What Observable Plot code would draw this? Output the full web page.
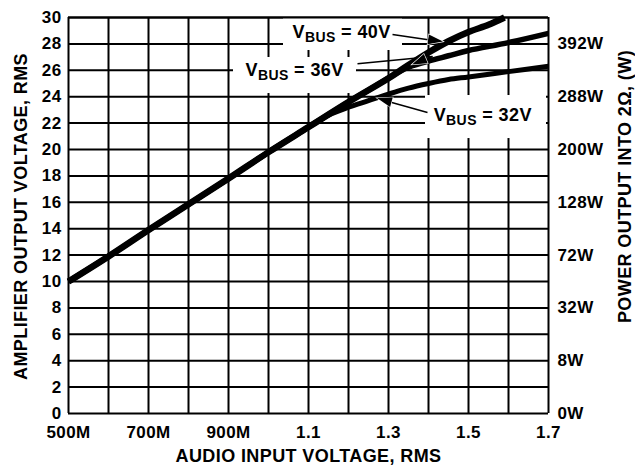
<!DOCTYPE html>
<html>
<head>
<meta charset="utf-8">
<script src="https://cdn.jsdelivr.net/npm/d3@7"></script>
<script src="https://cdn.jsdelivr.net/npm/@observablehq/plot@0.6"></script>
<style>
  html, body { margin: 0; padding: 0; background: white; }
</style>
</head>
<body>
<div id="chart"></div>
<script>
// ---- Data ----
const x32 = [0.5, 0.6, 0.7, 0.8, 0.9, 1.0, 1.1, 1.15, 1.2, 1.25, 1.3, 1.35, 1.4, 1.45, 1.5, 1.6, 1.7];
const y32 = [10, 11.9, 13.9, 15.85, 17.8, 19.8, 21.7, 22.6, 23.2, 23.7, 24.2, 24.65, 25.0, 25.3, 25.5, 25.9, 26.3];

const x36 = [0.5, 0.6, 0.7, 0.8, 0.9, 1.0, 1.1, 1.2, 1.3, 1.33, 1.36, 1.4, 1.45, 1.5, 1.6, 1.7];
const y36 = [10, 11.9, 13.9, 15.85, 17.8, 19.8, 21.7, 23.6, 25.4, 25.95, 26.35, 26.7, 27.1, 27.5, 28.1, 28.8];

const x40 = [0.5, 0.6, 0.7, 0.8, 0.9, 1.0, 1.1, 1.2, 1.3, 1.35, 1.4, 1.45, 1.5, 1.55, 1.59];
const y40 = [10, 11.9, 13.9, 15.85, 17.8, 19.8, 21.7, 23.6, 25.4, 26.4, 27.35, 28.2, 28.9, 29.45, 30];

const xGrid = [0.5, 0.6, 0.7, 0.8, 0.9, 1.0, 1.1, 1.2, 1.3, 1.4, 1.5, 1.6, 1.7];
const xTicks = [0.5, 0.7, 0.9, 1.1, 1.3, 1.5, 1.7];
const xTickLabels = ["500M", "700M", "900M", "1.1", "1.3", "1.5", "1.7"];
const yTicks = [0, 2, 4, 6, 8, 10, 12, 14, 16, 18, 20, 22, 24, 26, 28, 30];
const powerPos = [0, 4, 8, 12, 16, 20, 24, 28];
const powerLabels = ["0W", "8W", "32W", "72W", "128W", "200W", "288W", "392W"];

const xTitle = "AUDIO INPUT VOLTAGE, RMS";
const yTitle = "AMPLIFIER OUTPUT VOLTAGE, RMS";
const y2Title = "POWER OUTPUT INTO 2\u03A9, (W)";

// annotations (data units)
const labelText = ["VBUS = 40V", "VBUS = 36V", "VBUS = 32V"];
const labelX = [1.06, 0.9425, 1.413];
const labelY = [28.9, 26.0, 22.6];
const boxX1 = [1.0375, 0.9125, 1.3925];
const boxX2 = [1.335, 1.22, 1.695];
const boxY1 = [27.5, 24.24, 20.83];
const boxY2 = [30, 26.97, 24.09];
const arrowX1 = [1.31, 1.41, 1.3975];
const arrowY1 = [28.71, 27.05, 22.8];
const arrowX2 = [1.4375, 1.36, 1.2725];
const arrowY2 = [28.14, 26.4, 23.86];
const leaderX1 = [1.2225];
const leaderY1 = [26.5];
const leaderX2 = [1.41];
const leaderY2 = [27.05];

// ---- Build tables ----
const s32 = x32.map((x, i) => ({x, y: y32[i]}));
const s36 = x36.map((x, i) => ({x, y: y36[i]}));
const s40 = x40.map((x, i) => ({x, y: y40[i]}));
const boxes = boxX1.map((x1, i) => ({x1, x2: boxX2[i], y1: boxY1[i], y2: boxY2[i]}));
const labels = labelText.map((t, i) => ({t, x: labelX[i], y: labelY[i]}));
const arrows = arrowX1.map((x1, i) => ({x1, y1: arrowY1[i], x2: arrowX2[i], y2: arrowY2[i]}));
const leaders = leaderX1.map((x1, i) => ({x1, y1: leaderY1[i], x2: leaderX2[i], y2: leaderY2[i]}));

function arrowHeads(index, scales) {
  const g = d3.create("svg:g");
  arrows.forEach(a => {
    const x1 = scales.x(a.x1), y1 = scales.y(a.y1), x2 = scales.x(a.x2), y2 = scales.y(a.y2);
    const ang = Math.atan2(y2 - y1, x2 - x1);
    const L = 15, W = 5;
    const bx = x2 - L * Math.cos(ang), by = y2 - L * Math.sin(ang);
    const px = -Math.sin(ang) * W, py = Math.cos(ang) * W;
    g.append("path")
      .attr("d", `M${x2},${y2}L${bx + px},${by + py}L${bx - px},${by - py}Z`)
      .attr("fill", "black")
      .attr("stroke", "white")
      .attr("stroke-width", 1.2)
      .attr("paint-order", "stroke");
  });
  return g.node();
}

const lineOpts = {x: "x", y: "y", stroke: "black", curve: "catmull-rom", strokeLinecap: "butt"};

const chart = Plot.plot({
  width: 635,
  height: 465,
  marginLeft: 68,
  marginRight: 87,
  marginTop: 17,
  marginBottom: 52,
  x: {domain: [0.5, 1.7]},
  y: {domain: [0, 30]},
  style: {
    fontFamily: "'Liberation Sans', Arial, sans-serif",
    fontWeight: "bold",
    fontSize: "17px",
    letterSpacing: "0.4px",
    color: "black",
    background: "white",
    overflow: "visible"
  },
  marks: [
    Plot.ruleX(xGrid, {stroke: "black", strokeWidth: 2}),
    Plot.ruleY(yTicks, {stroke: "black", strokeWidth: 2}),
    Plot.rect(boxes, {x1: "x1", x2: "x2", y1: "y1", y2: "y2", fill: "white"}),
    Plot.ruleY([30], {stroke: "black", strokeWidth: 2}),
    Plot.line(s32, {...lineOpts, strokeWidth: 5}),
    Plot.line(s36, {...lineOpts, strokeWidth: 5.5}),
    Plot.line(s40, {...lineOpts, strokeWidth: 6.5}),
    Plot.link(leaders, {x1: "x1", y1: "y1", x2: "x2", y2: "y2", stroke: "black", strokeWidth: 1.5}),
    Plot.link(arrows, {x1: "x1", y1: "y1", x2: "x2", y2: "y2", stroke: "black", strokeWidth: 1.5}),
    arrowHeads,
    Plot.text(labels, {x: "x", y: "y", text: "t", textAnchor: "start", lineAnchor: "middle", fontSize: 18, fill: "black"}),
    Plot.axisX(xTicks, {tickSize: 0, tickPadding: 12, label: null, tickFormat: d => xTickLabels[xTicks.indexOf(d)], fontSize: 17}),
    Plot.axisY(yTicks, {anchor: "left", tickSize: 0, tickPadding: 7, label: null, fontSize: 17}),
    Plot.axisY(powerPos, {anchor: "right", tickSize: 0, tickPadding: 9, label: null, tickFormat: d => powerLabels[powerPos.indexOf(d)], fontSize: 17}),
    Plot.text([xTitle], {text: d => d, frameAnchor: "bottom", dy: 43, textAnchor: "middle", lineAnchor: "middle", fontSize: 18}),
    Plot.text([yTitle], {text: d => d, frameAnchor: "left", dx: -47.5, dy: 1, rotate: -90, textAnchor: "middle", lineAnchor: "middle", fontSize: 18}),
    Plot.text([y2Title], {text: d => d, frameAnchor: "right", dx: 77, dy: -29, rotate: -90, textAnchor: "middle", lineAnchor: "middle", fontSize: 18})
  ]
});

// subscript "BUS" in the V_BUS labels
d3.select(chart).selectAll("text").each(function () {
  const s = this.textContent;
  const m = /^VBUS(.*)$/.exec(s);
  if (m) {
    const t = d3.select(this);
    t.text("V");
    t.append("tspan").attr("dy", 4).attr("font-size", 14).text("BUS");
    t.append("tspan").attr("dy", -4).text(m[1]);
  }
});

document.getElementById("chart").appendChild(chart);
</script>
</body>
</html>
